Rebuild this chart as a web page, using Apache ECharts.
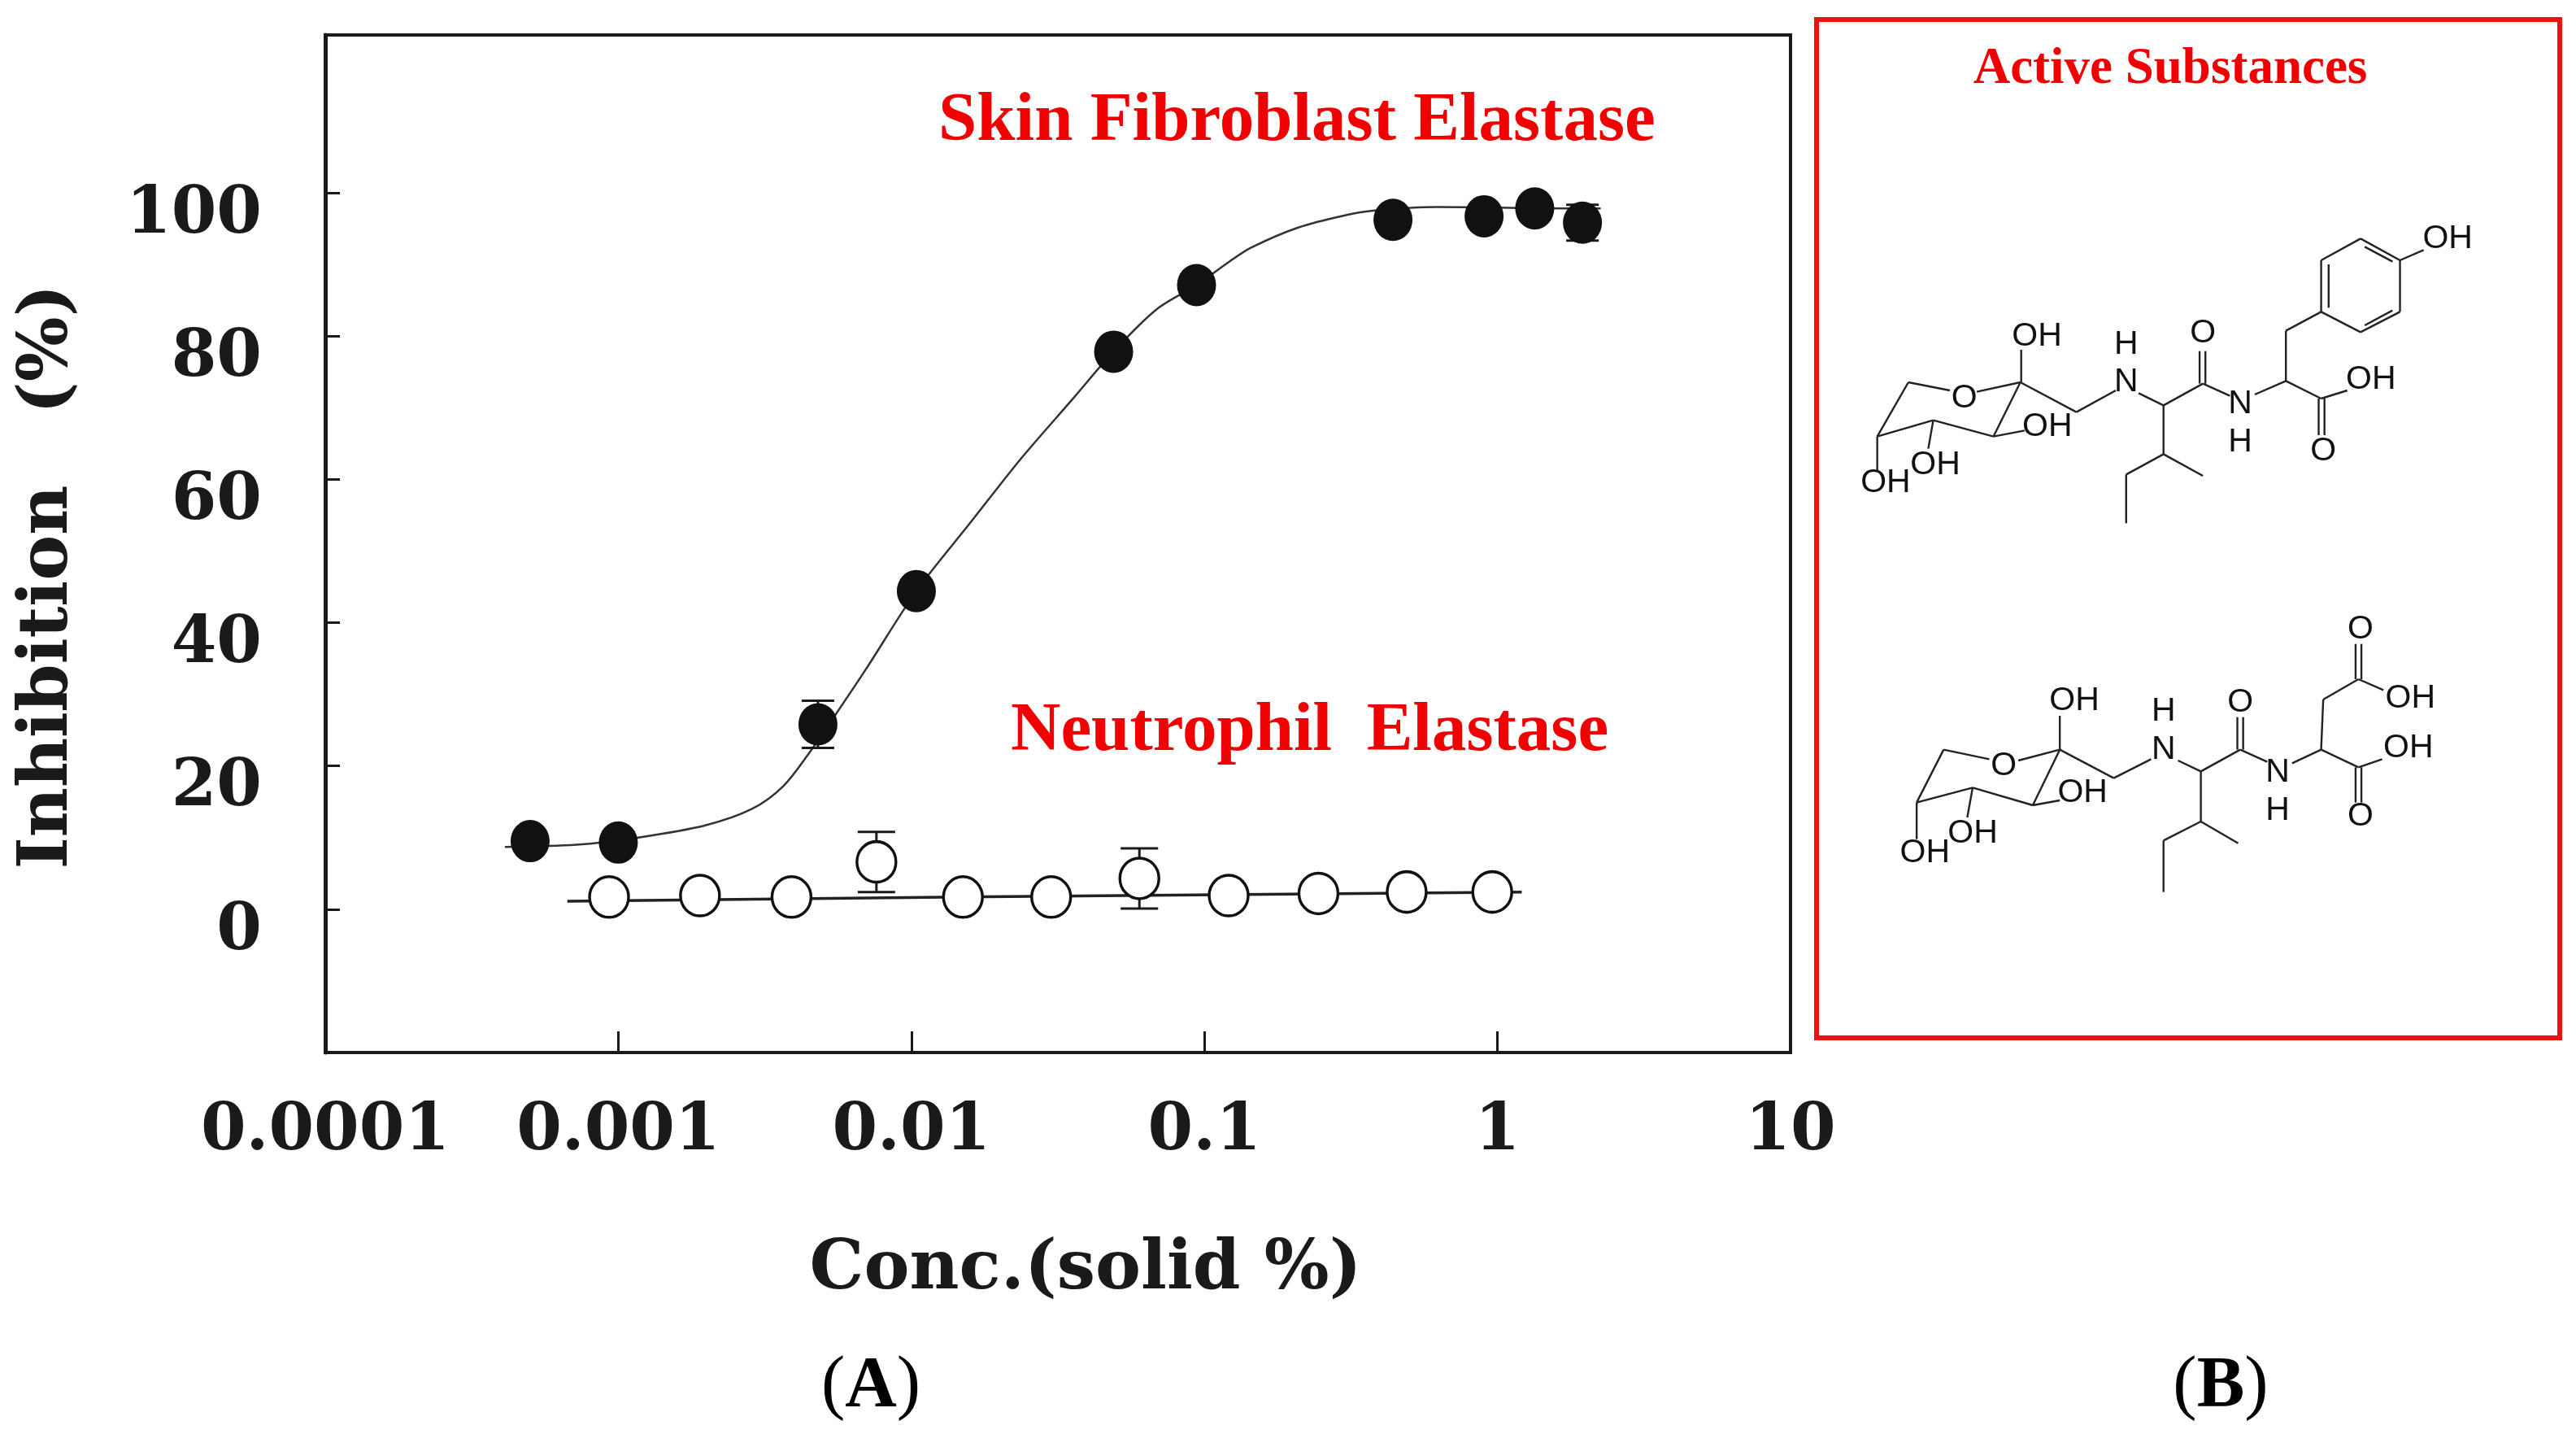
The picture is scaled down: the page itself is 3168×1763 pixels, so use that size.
<!DOCTYPE html>
<html>
<head>
<meta charset="utf-8">
<title>Elastase inhibition</title>
<script src="https://cdn.jsdelivr.net/npm/echarts@6.0.0/dist/echarts.min.js"></script>
<style>
    html, body { margin: 0; padding: 0; background: #ffffff; }
    #chart { width: 3168px; height: 1763px; }
</style>
</head>
<body>
<div id="chart"></div>
<script>
// skin fibroblast elastase (filled circles)
const fibroConc = [0.0005, 0.001, 0.0048, 0.0104, 0.049, 0.094, 0.44, 0.9, 1.34, 1.95]
const fibroInhib = [9.5, 9.3, 25.8, 44.4, 77.8, 87.1, 96.2, 96.7, 97.8, 95.8]
const fibroErr = [0.8, 1.5, 3.3, 1.5, 1.0, 1.0, 1.0, 1.0, 1.0, 2.5]

// fitted curve drawn through the filled circles
const fibroFitConc = [0.00041, 0.00072, 0.00117, 0.00198, 0.00286, 0.00366, 0.00448, 0.00548, 0.007,
    0.0104, 0.0158, 0.0238, 0.0357, 0.0489, 0.0686, 0.094, 0.121, 0.144, 0.208, 0.3, 0.382, 0.624, 1.66, 2.25]
const fibroFitInhib = [8.7, 9.0, 10.0, 11.7, 14.0, 17.2, 21.8, 27.0, 33.5,
    44.4, 53.8, 63.0, 71.3, 77.8, 83.7, 87.1, 90.3, 92.3, 95.1, 96.8, 97.5, 98.0, 97.8, 97.8]

// neutrophil elastase (open circles)
const neutroConc = [0.00093, 0.0019, 0.0039, 0.0076, 0.015, 0.03, 0.06, 0.121, 0.245, 0.49, 0.96]
const neutroInhib = [1.7, 1.9, 1.7, 6.6, 1.7, 1.7, 4.3, 1.9, 2.2, 2.4, 2.4]
const neutroErr = [0.5, 0.5, 0.5, 4.2, 0.5, 0.5, 4.2, 0.5, 0.5, 0.5, 0.5]

const neutroFitConc = [0.00067, 0.0149, 1.21]
const neutroFitInhib = [1.1, 1.7, 2.4]

const xTickLabels = ['0.0001', '0.001', '0.01', '0.1', '1', '10']
const yTickValues = [0, 20, 40, 60, 80, 100]

const INK = '#1a1a1a'
const RED = '#f00000'

function zip(xs, ys) {
    return xs.map((x, i) => [x, ys[i]])
}

function errorRows(xs, ys, errs) {
    return xs.map((x, i) => [x, ys[i] - errs[i], ys[i] + errs[i]])
}

function makeErrorRenderer(capWidth) {
    return function (params, api) {
        const x = api.value(0)
        const top = api.coord([x, api.value(2)])
        const bot = api.coord([x, api.value(1)])
        const half = capWidth / 2
        const style = {stroke: INK, lineWidth: 3}
        return {
            type: 'group',
            children: [
                {type: 'line', shape: {x1: top[0], y1: top[1], x2: bot[0], y2: bot[1]}, style: style},
                {type: 'line', shape: {x1: top[0] - half, y1: top[1], x2: top[0] + half, y2: top[1]}, style: style},
                {type: 'line', shape: {x1: bot[0] - half, y1: bot[1], x2: bot[0] + half, y2: bot[1]}, style: style},
            ]
        }
    }
}

// --- chemical structures of panel B (coordinates) ---
const topBonds = [
    [190, 660, 290, 690], [355, 695, 460, 660], [462, 540, 462, 660], [460, 660, 595, 770],
    [595, 770, 690, 690], [460, 660, 395, 860], [395, 860, 470, 838], [395, 860, 250, 800],
    [250, 800, 238, 905], [250, 800, 115, 860], [115, 860, 190, 660], [115, 860, 115, 985],
    [745, 700, 805, 745], [805, 745, 900, 665], [892, 545, 892, 665], [906, 545, 906, 665],
    [900, 665, 965, 710], [1025, 705, 1100, 655], [1100, 655, 1100, 470], [1100, 470, 1185, 400],
    [1185, 400, 1185, 210], [1185, 210, 1280, 130], [1280, 130, 1375, 210], [1375, 210, 1375, 400],
    [1375, 400, 1280, 475], [1280, 475, 1185, 400],
    [1203, 385, 1203, 225], [1290, 160, 1357, 215], [1357, 395, 1290, 450],
    [1375, 210, 1432, 172], [1100, 655, 1185, 720], [1185, 720, 1248, 690],
    [1179, 720, 1179, 855], [1193, 720, 1193, 855],
    [805, 745, 805, 925], [805, 925, 900, 1005], [805, 925, 715, 1000], [715, 1000, 715, 1180],
]
const topLabels = [
    ['OH', 500, 490], ['O', 325, 720], ['OH', 525, 825], ['OH', 255, 965], ['OH', 135, 1030],
    ['H', 715, 520], ['N', 715, 660], ['O', 900, 480], ['N', 990, 740], ['H', 990, 880],
    ['OH', 1490, 130], ['OH', 1305, 650], ['O', 1190, 915],
]
const bottomBonds = [
    [275, 605, 385, 640], [455, 645, 555, 605], [555, 480, 555, 605], [555, 605, 685, 710],
    [685, 710, 775, 640], [555, 605, 490, 810], [490, 810, 555, 792], [490, 810, 345, 745],
    [345, 745, 332, 855], [345, 745, 210, 800], [210, 800, 275, 605], [210, 800, 210, 935],
    [840, 645, 895, 685], [895, 685, 990, 605], [983, 485, 983, 605], [997, 485, 997, 605],
    [990, 605, 1055, 650], [1115, 655, 1185, 605], [1185, 605, 1190, 420], [1190, 420, 1275, 345],
    [1268, 215, 1268, 345], [1282, 215, 1282, 345], [1275, 345, 1335, 385],
    [1185, 605, 1275, 670], [1275, 670, 1332, 640], [1268, 670, 1268, 800], [1282, 670, 1282, 800],
    [895, 685, 895, 870], [895, 870, 985, 950], [895, 870, 805, 940], [805, 940, 805, 1130],
]
const bottomLabels = [
    ['OH', 590, 425], ['O', 420, 665], ['OH', 610, 765], ['OH', 345, 915], ['OH', 230, 985],
    ['H', 805, 465], ['N', 805, 605], ['O', 990, 430], ['N', 1080, 690], ['H', 1080, 830],
    ['O', 1280, 160], ['OH', 1400, 415], ['OH', 1395, 600], ['O', 1280, 850],
]

function buildStructure(bonds, labels, originX, originY) {
    const toPage = (zx, zy) => [originX + zx / 1.96, originY + zy / 3]
    const elements = []

    bonds.forEach(b => {
        const p1 = toPage(b[0], b[1])
        const p2 = toPage(b[2], b[3])
        elements.push({
            type: 'line',
            shape: {x1: p1[0], y1: p1[1], x2: p2[0], y2: p2[1]},
            style: {stroke: '#222', lineWidth: 2.4},
        })
    })

    labels.forEach(l => {
        const p = toPage(l[1], l[2])
        elements.push({
            type: 'text',
            x: p[0],
            y: p[1],
            style: {
                text: l[0],
                fontFamily: 'Liberation Sans',
                fontSize: 41,
                fill: '#111',
                align: 'center',
                verticalAlign: 'middle',
            }
        })
    })

    return elements
}

function serifText(text, x, y, size, align, color) {
    return {
        type: 'text',
        x: x,
        y: y,
        style: {
            text: text,
            fontFamily: 'Liberation Serif',
            fontWeight: 'bold',
            fontSize: size,
            fill: color,
            align: align,
            verticalAlign: 'middle',
        }
    }
}

function panelLetter(letter, x, y) {
    return {
        type: 'text',
        x: x,
        y: y,
        style: {
            text: '{p|(}{b|' + letter + '}{p|)}',
            align: 'center',
            verticalAlign: 'middle',
            rich: {
                p: {fontFamily: 'Liberation Serif', fontSize: 88, fill: '#000'},
                b: {fontFamily: 'Liberation Serif', fontSize: 88, fontWeight: 'bold', fill: '#000'},
            }
        }
    }
}

function buildGraphics() {
    const elements = [
        serifText('Skin Fibroblast Elastase', 1154, 150, 85, 'left', RED),
        serifText('Neutrophil  Elastase', 1243, 900, 85, 'left', RED),
        {
            type: 'text',
            x: 60,
            y: 709,
            rotation: Math.PI / 2,
            style: {
                text: 'Inhibition   (%)',
                fontFamily: 'DejaVu Serif',
                fontWeight: 'bold',
                fontSize: 84,
                fill: INK,
                align: 'center',
                verticalAlign: 'middle',
            }
        },
        {
            type: 'text',
            x: 1335,
            y: 1562,
            style: {
                text: 'Conc.(solid %)',
                fontFamily: 'DejaVu Serif',
                fontWeight: 'bold',
                fontSize: 84,
                fill: INK,
                align: 'center',
                verticalAlign: 'middle',
            }
        },
        panelLetter('A', 1071, 1705),
        panelLetter('B', 2731, 1705),
        {
            type: 'rect',
            shape: {x: 2234, y: 24, width: 914, height: 1252},
            style: {fill: 'none', stroke: '#ee1111', lineWidth: 6},
        },
        serifText('Active Substances', 2669, 86, 63, 'center', RED),
    ]

    return elements
        .concat(buildStructure(topBonds, topLabels, 2250, 250))
        .concat(buildStructure(bottomBonds, bottomLabels, 2250, 720))
}

function renderChart() {
    const chart = echarts.init(document.querySelector('#chart'))

    const option = {
        backgroundColor: '#ffffff',
        animation: false,
        grid: {
            left: 400,
            top: 43,
            right: 966,
            bottom: 469,
            show: true,
            borderColor: INK,
            borderWidth: 4,
        },
        xAxis: {
            type: 'log',
            logBase: 10,
            min: 0.0001,
            max: 10,
            // 轴线放在绘图区底边 不跟随 y=0
            axisLine: {show: true, onZero: false, lineStyle: {color: INK, width: 4}},
            axisTick: {show: true, inside: true, length: 26, lineStyle: {color: INK, width: 3}},
            minorTick: {show: false},
            splitLine: {show: false},
            axisLabel: {
                margin: 58,
                fontFamily: 'DejaVu Serif',
                fontWeight: 'bold',
                fontSize: 80,
                color: INK,
                formatter: value => xTickLabels[Math.round(Math.log10(value)) + 4],
            },
        },
        yAxis: {
            type: 'value',
            min: -20,
            max: 122,
            axisLine: {show: true, lineStyle: {color: INK, width: 5}},
            axisTick: {
                show: true,
                inside: true,
                length: 18,
                customValues: yTickValues,
                lineStyle: {color: INK, width: 3},
            },
            splitLine: {show: false},
            axisLabel: {
                customValues: yTickValues,
                margin: 78,
                // 标签略低于刻度线
                verticalAlign: 'top',
                lineHeight: 56,
                fontFamily: 'DejaVu Serif',
                fontWeight: 'bold',
                fontSize: 80,
                color: INK,
            },
        },
        graphic: buildGraphics(),
        series: [
            {
                name: 'Skin fibroblast fit',
                type: 'line',
                data: zip(fibroFitConc, fibroFitInhib),
                smooth: 0.3,
                symbol: 'none',
                lineStyle: {color: '#333', width: 2.5},
                z: 2,
            },
            {
                name: 'Neutrophil fit',
                type: 'line',
                data: zip(neutroFitConc, neutroFitInhib),
                symbol: 'none',
                lineStyle: {color: '#222', width: 3.5},
                z: 2,
            },
            {
                name: 'Skin fibroblast error',
                type: 'custom',
                renderItem: makeErrorRenderer(40),
                data: errorRows(fibroConc, fibroInhib, fibroErr),
                z: 3,
            },
            {
                name: 'Neutrophil error',
                type: 'custom',
                renderItem: makeErrorRenderer(46),
                data: errorRows(neutroConc, neutroInhib, neutroErr),
                z: 3,
            },
            {
                name: 'Skin Fibroblast Elastase',
                type: 'scatter',
                data: zip(fibroConc, fibroInhib),
                symbol: 'circle',
                symbolSize: [48, 52],
                itemStyle: {color: '#111', opacity: 1},
                z: 4,
            },
            {
                name: 'Neutrophil Elastase',
                type: 'scatter',
                data: zip(neutroConc, neutroInhib),
                symbol: 'circle',
                symbolSize: [48, 50],
                itemStyle: {color: '#ffffff', borderColor: '#111', borderWidth: 3.5, opacity: 1},
                z: 4,
            },
        ]
    }

    chart.setOption(option)
}

window.addEventListener('load', renderChart)
</script>
</body>
</html>
